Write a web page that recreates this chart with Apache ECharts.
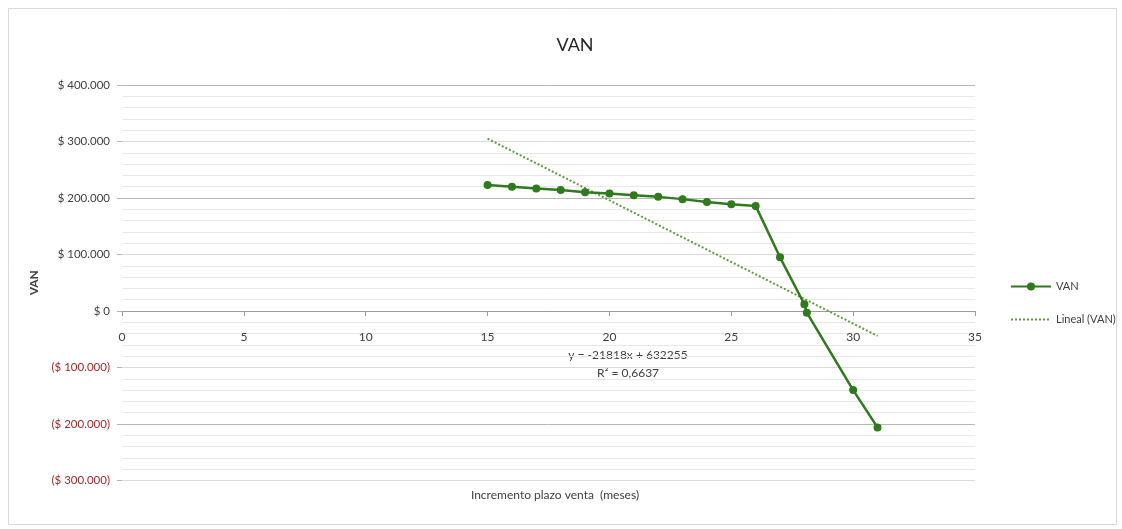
<!DOCTYPE html>
<html>
<head>
<meta charset="utf-8">
<style>
  html, body { margin: 0; padding: 0; background: #ffffff; }
  #chart { width: 1122px; height: 529px; }
</style>
<script src="https://cdn.jsdelivr.net/npm/echarts@6/dist/echarts.min.js"></script>
</head>
<body>
<div id="chart"></div>
<script>
// Increment in sale term (months) and resulting net present value
const months = [15, 16, 17, 18, 19, 20, 21, 22, 23, 24, 25, 26, 27, 28, 28.1, 30, 31];
const van = [223000, 220000, 217000, 214000, 210000, 208000, 205000, 202000, 198000,
             193000, 189000, 186000, 95000, 12000, -3000, -140000, -206000];

// Linear trend line coefficients and fit quality
const trendSlope = -21818;
const trendIntercept = 632255;
const trendR2 = '0,6637';

// Axis ranges
const xTicks = { min: 0, max: 35, interval: 5 };
const yTicks = { min: -300000, max: 400000, interval: 100000 };

const FONT = 'Lato, "Open Sans", sans-serif';
const TEXT = '#404040';
const GREEN = '#2e7a1c';
const TREND = '#5f9a3c';

const vanPoints = months.map((m, i) => [m, van[i]]);
const xFirst = Math.min(...months);
const xLast = Math.max(...months);
const trendPoints = [xFirst, xLast].map(x => [x, trendSlope * x + trendIntercept]);

function money(v) {
  const s = Math.abs(v).toString().replace(/\B(?=(\d{3})+(?!\d))/g, '.');
  if (v < 0) return '{neg|($ ' + s + ')}';
  return '$ ' + s;
}

// Plot box; the category axis sits on the zero line of the value axis
const GRID = { left: 122, right: 147, top: 85, bottom: 48.5 };
const plotHeight = 529 - GRID.top - GRID.bottom;
const zeroOffset = -plotHeight * (0 - yTicks.min) / (yTicks.max - yTicks.min);

const chart = echarts.init(document.getElementById('chart'), null, { renderer: 'canvas' });

chart.setOption({
  animation: false,
  backgroundColor: '#ffffff',
  textStyle: { fontFamily: FONT },
  title: [
    {
      text: 'VAN',
      left: 570, top: 31, textAlign: 'center',
      textStyle: { fontFamily: FONT, fontSize: 18, fontWeight: 'normal', color: '#262626' }
    },
    {
      text: 'Incremento plazo venta  (meses)',
      left: 550, top: 484, textAlign: 'center',
      textStyle: { fontFamily: FONT, fontSize: 12, fontWeight: 'normal', color: TEXT }
    }
  ],
  grid: Object.assign({ containLabel: false }, GRID),
  legend: {
    orient: 'vertical',
    left: 1005, top: 276,
    itemWidth: 40, itemHeight: 10, itemGap: 22,
    textStyle: { fontFamily: FONT, fontSize: 11, color: TEXT },
    data: [
      'VAN',
      { name: 'Lineal (VAN)', itemStyle: { opacity: 0 } }
    ]
  },
  xAxis: {
    type: 'value',
    min: xTicks.min, max: xTicks.max, interval: xTicks.interval,
    offset: zeroOffset,
    axisLine: { show: true, onZero: false, lineStyle: { color: '#9a9a9a', width: 1 } },
    axisTick: { show: true, length: 5, lineStyle: { color: '#9a9a9a' } },
    axisLabel: { margin: 20, fontSize: 12, color: TEXT, fontFamily: FONT },
    splitLine: { show: false }
  },
  yAxis: {
    type: 'value',
    min: yTicks.min, max: yTicks.max, interval: yTicks.interval,
    name: 'VAN',
    nameLocation: 'middle',
    nameGap: 80,
    nameTextStyle: { fontFamily: FONT, fontSize: 12, fontWeight: 'bold', color: TEXT },
    axisLine: { show: false },
    axisTick: { show: true, length: 5, lineStyle: { color: '#b5b5b5' } },
    axisLabel: {
      margin: 12, fontSize: 11.5, color: TEXT, fontFamily: FONT,
      formatter: money,
      rich: { neg: { color: '#a8262a', fontSize: 11.5, fontFamily: FONT } }
    },
    splitLine: { show: true, lineStyle: { color: ['#dadada', '#b8b8b8'], width: 1 } },
    minorTick: { show: false, splitNumber: 5 },
    minorSplitLine: { show: true, lineStyle: { color: '#e8e8e8', width: 1 } }
  },
  series: [
    {
      name: 'VAN',
      type: 'line',
      data: vanPoints,
      symbol: 'circle',
      symbolSize: 8,
      showSymbol: true,
      color: GREEN,
      lineStyle: { color: GREEN, width: 2.5 },
      itemStyle: { color: GREEN },
      z: 3
    },
    {
      name: 'Lineal (VAN)',
      type: 'line',
      data: trendPoints,
      symbol: 'none',
      color: TREND,
      lineStyle: { color: TREND, width: 2, type: 'dotted' },
      z: 2
    }
  ],
  graphic: [
    {
      type: 'rect',
      shape: { x: 8.5, y: 8.5, width: 1108, height: 516 },
      style: { fill: 'none', stroke: '#d9d9d9', lineWidth: 1 },
      silent: true
    },
    {
      type: 'text',
      x: 628, y: 355,
      style: {
        text: 'y = ' + trendSlope + 'x + ' + trendIntercept,
        fontFamily: FONT, fontSize: 12, fill: TEXT,
        align: 'center', verticalAlign: 'middle'
      }
    },
    {
      type: 'text',
      x: 628, y: 373,
      style: {
        text: 'R² = ' + trendR2,
        fontFamily: FONT, fontSize: 12, fill: TEXT,
        align: 'center', verticalAlign: 'middle'
      }
    }
  ]
});
</script>
</body>
</html>
